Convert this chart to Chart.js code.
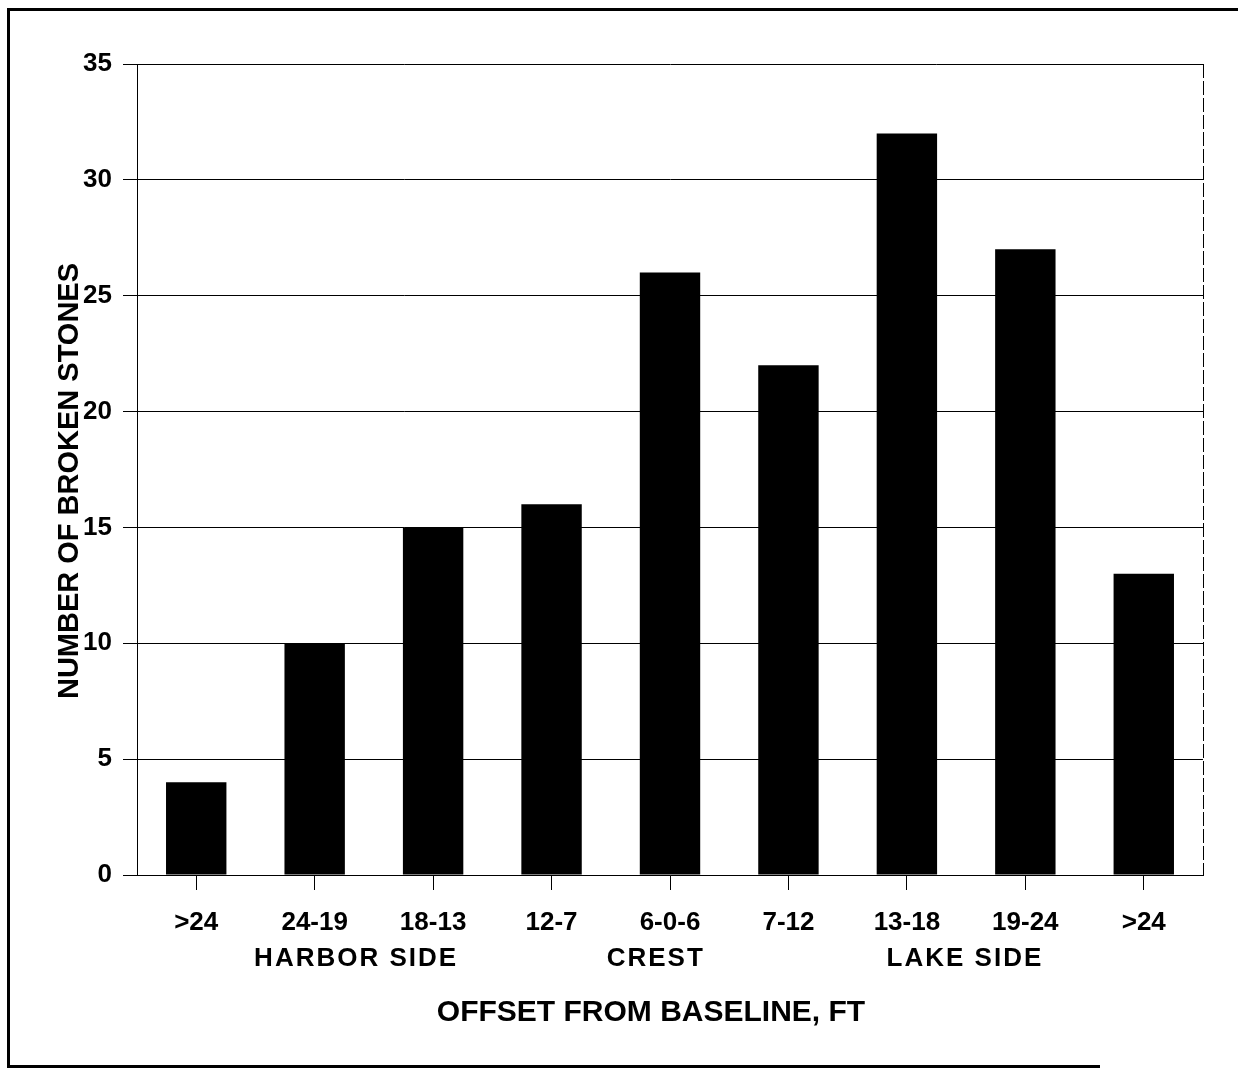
<!DOCTYPE html>
<html>
<head>
<meta charset="utf-8">
<script src="https://cdn.jsdelivr.net/npm/chart.js@4.4.1/dist/chart.umd.min.js"></script>
<style>
  html, body { margin: 0; padding: 0; background: #fff; }
  #wrap { width: 1238px; height: 1070px; }
</style>
</head>
<body>
<div id="wrap"><canvas id="c" width="1238" height="1070"></canvas></div>
<script>
const categories = ['>24', '24-19', '18-13', '12-7', '6-0-6', '7-12', '13-18', '19-24', '>24'];
const brokenStones = [4, 10, 15, 16, 26, 22, 32, 27, 13];
const groupLabels = ['HARBOR SIDE', 'CREST', 'LAKE SIDE'];
const groupAt = [1.35, 3.88, 6.49];
const yTitle = 'NUMBER OF BROKEN STONES';
const xTitle = 'OFFSET FROM BASELINE, FT';

const FONT = '"Liberation Sans", Arial, sans-serif';

const decor = {
  id: 'decor',
  afterDraw(chart) {
    const ctx = chart.ctx;
    const a = chart.chartArea;
    const xs = chart.scales.x;
    ctx.save();
    // outer frame (left, top, bottom)
    ctx.strokeStyle = '#000';
    ctx.lineWidth = 3;
    ctx.beginPath();
    ctx.moveTo(1238, 9.5);
    ctx.lineTo(8.5, 9.5);
    ctx.lineTo(8.5, 1066.5);
    ctx.lineTo(1100, 1066.5);
    ctx.stroke();
    // right plot border
    ctx.lineWidth = 1;
    ctx.setLineDash([14, 3]);
    ctx.beginPath();
    ctx.moveTo(a.right + 0.5, a.top);
    ctx.lineTo(a.right + 0.5, a.bottom);
    ctx.stroke();
    ctx.setLineDash([]);
    // group labels
    ctx.fillStyle = '#000';
    ctx.textAlign = 'center';
    ctx.textBaseline = 'middle';
    ctx.font = 'bold 26px ' + FONT;
    ctx.letterSpacing = '2px';
    groupLabels.forEach((g, i) => {
      ctx.fillText(g, xs.getPixelForValue(groupAt[i]), 959);
    });
    ctx.letterSpacing = '0px';
    // x title
    ctx.font = 'bold 30px ' + FONT;
    ctx.fillText(xTitle, 651, 1013);
    // y title
    ctx.translate(70, 481);
    ctx.rotate(-Math.PI / 2);
    ctx.font = 'bold 29px ' + FONT;
    ctx.fillText(yTitle, 0, 0);
    ctx.restore();
  }
};

new Chart(document.getElementById('c'), {
  type: 'bar',
  data: {
    labels: categories,
    datasets: [{
      data: brokenStones,
      backgroundColor: '#000',
      borderWidth: 0,
      barPercentage: 0.51,
      categoryPercentage: 1.0
    }]
  },
  options: {
    responsive: false,
    animation: false,
    devicePixelRatio: 1,
    layout: { padding: { top: 64, right: 35, bottom: 0, left: 0 } },
    plugins: { legend: { display: false }, tooltip: { enabled: false } },
    scales: {
      x: {
        afterFit(s) { s.height = 195; },
        grid: { display: true, drawOnChartArea: false, offset: false, tickLength: 15, color: '#000', lineWidth: 1 },
        border: { display: true, color: '#000', width: 1 },
        ticks: { color: '#000', padding: 17, font: { family: FONT, size: 26, weight: 'bold' }, maxRotation: 0 }
      },
      y: {
        min: 0, max: 35,
        afterFit(s) { s.width = 137; },
        grid: { color: '#000', lineWidth: 1, tickLength: 14 },
        border: { display: true, color: '#000', width: 1 },
        ticks: { stepSize: 5, color: '#000', padding: 11, font: { family: FONT, size: 26, weight: 'bold' } }
      }
    }
  },
  plugins: [decor]
});
</script>
</body>
</html>
